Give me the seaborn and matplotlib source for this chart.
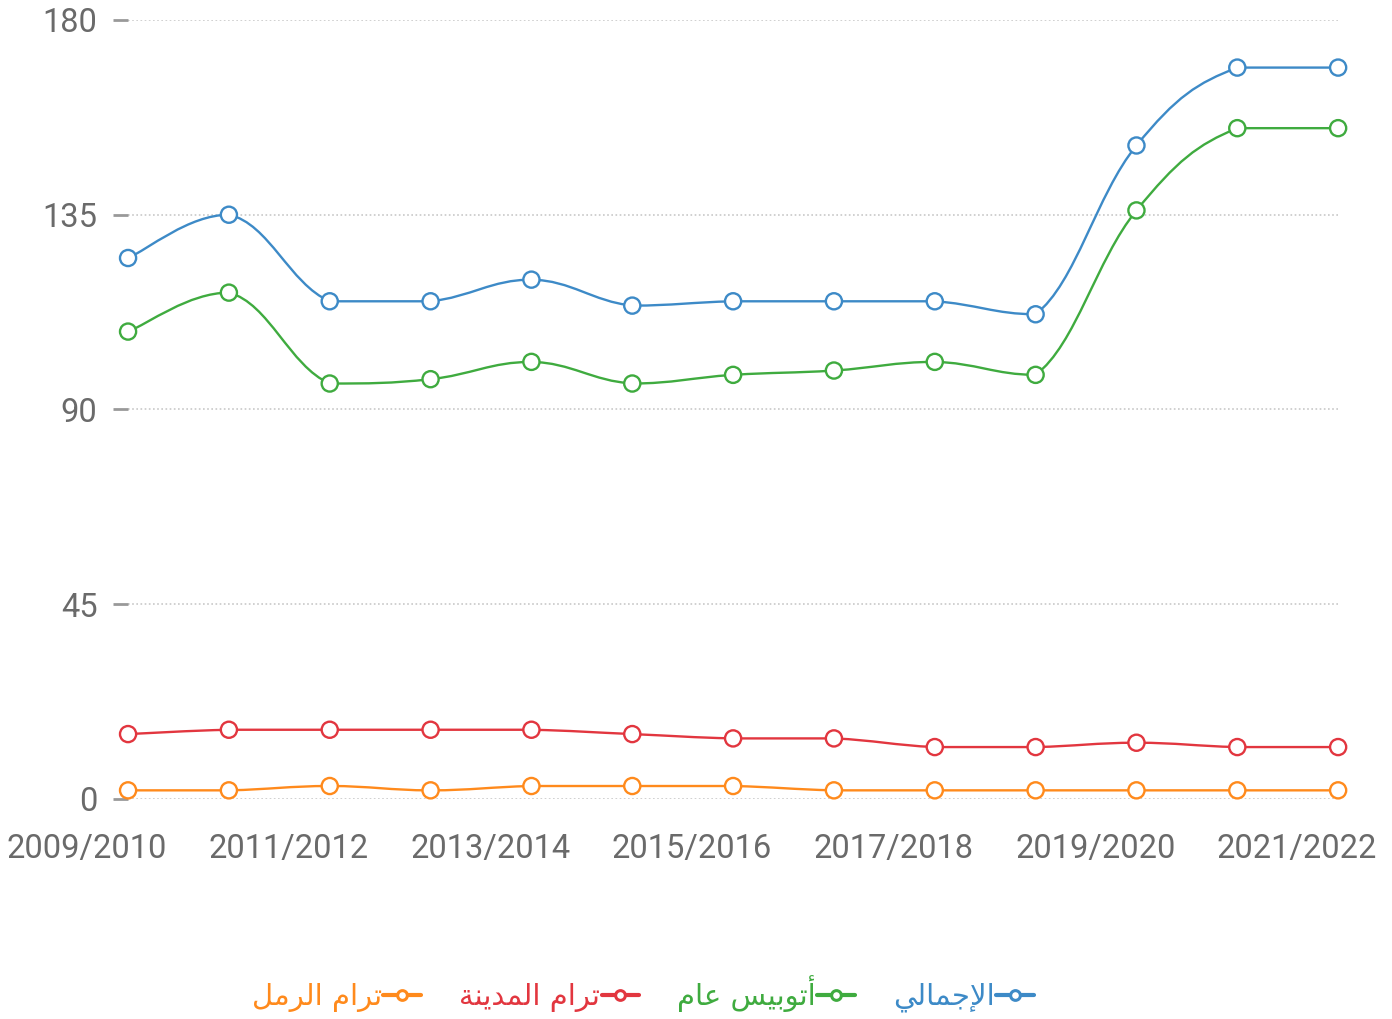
import numpy as np
import pandas as pd
import seaborn as sns
import matplotlib.pyplot as plt
from matplotlib.path import Path
from matplotlib.patches import PathPatch
from matplotlib.lines import Line2D
from matplotlib.transforms import ScaledTranslation

# Data
years = ["2009/2010", "2010/2011", "2011/2012", "2012/2013", "2013/2014", "2014/2015",
         "2015/2016", "2016/2017", "2017/2018", "2018/2019", "2019/2020", "2020/2021",
         "2021/2022"]
total = [125, 135, 115, 115, 120, 114, 115, 115, 115, 112, 151, 169, 169]
bus = [108, 117, 96, 97, 101, 96, 98, 99, 101, 98, 136, 155, 155]
city_tram = [15, 16, 16, 16, 16, 15, 14, 14, 12, 12, 13, 12, 12]
raml_tram = [2, 2, 3, 2, 3, 3, 3, 2, 2, 2, 2, 2, 2]

series_names = ["الإجمالي", "أتوبيس عام", "ترام المدينة", "ترام الرمل"]
series_values = [total, bus, city_tram, raml_tram]
colors = ["#3d8ac7", "#3fab3f", "#e2363f", "#ff8a1c"]

y_ticks = [0, 45, 90, 135, 180]

# matplotlib does no Arabic shaping, so join letters by hand (presentation forms)
FORMS = {
    "ا": ("\ufe8d", "\ufe8e", None, None),
    "أ": ("\ufe83", "\ufe84", None, None),
    "إ": ("\ufe87", "\ufe88", None, None),
    "ب": ("\ufe8f", "\ufe90", "\ufe91", "\ufe92"),
    "ة": ("\ufe93", "\ufe94", None, None),
    "ت": ("\ufe95", "\ufe96", "\ufe97", "\ufe98"),
    "ج": ("\ufe9d", "\ufe9e", "\ufe9f", "\ufea0"),
    "د": ("\ufea9", "\ufeaa", None, None),
    "ر": ("\ufead", "\ufeae", None, None),
    "س": ("\ufeb1", "\ufeb2", "\ufeb3", "\ufeb4"),
    "ع": ("\ufec9", "\ufeca", "\ufecb", "\ufecc"),
    "ل": ("\ufedd", "\ufede", "\ufedf", "\ufee0"),
    "م": ("\ufee1", "\ufee2", "\ufee3", "\ufee4"),
    "ن": ("\ufee5", "\ufee6", "\ufee7", "\ufee8"),
    "و": ("\ufeed", "\ufeee", None, None),
    "ي": ("\ufef1", "\ufef2", "\ufef3", "\ufef4"),
}
LAM_ALEF = {"ا": ("\ufefb", "\ufefc"), "أ": ("\ufef7", "\ufef8"), "إ": ("\ufef9", "\ufefa")}


def joins_left(c):
    f = FORMS.get(c)
    return f is not None and f[2] is not None


def shape_ar(text):
    out = []
    prev_joins = False
    i = 0
    while i < len(text):
        c = text[i]
        if c not in FORMS:
            out.append(c)
            prev_joins = False
            i += 1
            continue
        if c == "ل" and i + 1 < len(text) and text[i + 1] in LAM_ALEF:
            iso, fin = LAM_ALEF[text[i + 1]]
            out.append(fin if prev_joins else iso)
            prev_joins = False
            i += 2
            continue
        nxt = text[i + 1] if i + 1 < len(text) else None
        next_ok = nxt in FORMS and joins_left(c)
        iso, fin, ini, med = FORMS[c]
        if prev_joins and next_ok:
            out.append(med)
        elif prev_joins:
            out.append(fin)
        elif next_ok:
            out.append(ini)
        else:
            out.append(iso)
        prev_joins = joins_left(c)
        i += 1
    return "".join(reversed(out))


def smooth_path(xs, ys, s=0.2):
    # cubic bezier through the points, control points kept inside each segment's y range
    n = len(xs)
    verts = [(xs[0], ys[0])]
    codes = [Path.MOVETO]
    for i in range(n - 1):
        p0 = max(i - 1, 0)
        p3 = min(i + 2, n - 1)
        c1x = xs[i] + s * (xs[i + 1] - xs[p0])
        c1y = ys[i] + s * (ys[i + 1] - ys[p0])
        c2x = xs[i + 1] - s * (xs[p3] - xs[i])
        c2y = ys[i + 1] - s * (ys[p3] - ys[i])
        lo, hi = min(ys[i], ys[i + 1]), max(ys[i], ys[i + 1])
        c1y = min(max(c1y, lo), hi)
        c2y = min(max(c2y, lo), hi)
        verts += [(c1x, c1y), (c2x, c2y), (xs[i + 1], ys[i + 1])]
        codes += [Path.CURVE4] * 3
    return Path(verts, codes)


rows = []
for name, vals in zip(series_names, series_values):
    for i, v in enumerate(vals):
        rows.append({"x": i, "year": years[i], "value": v, "series": name})
df = pd.DataFrame(rows)

sns.set_style("white")
plt.rcParams["font.family"] = ["Roboto", "DejaVu Sans"]

fig = plt.figure(figsize=(13.92, 10.19), dpi=100)
ax = fig.add_axes([0.092, 0.2159, 0.8693, 0.7645])

for name, vals, col in zip(series_names, series_values, colors):
    path = smooth_path(list(range(len(vals))), vals)
    ax.add_patch(PathPatch(path, fill=False, edgecolor=col, lw=1.7, zorder=2, clip_on=False))

sns.scatterplot(data=df, x="x", y="value", hue="series", palette=dict(zip(series_names, colors)),
                ax=ax, s=135, facecolor="white", linewidth=1.7, legend=False, zorder=3, clip_on=False)
# scatterplot fills with hue colour; recolour faces white and edges with the hue
for coll in ax.collections:
    fc = coll.get_facecolors()
    coll.set_edgecolors(fc)
    coll.set_facecolors("white")

ax.set_xlim(0, len(years) - 1)
ax.set_ylim(0, 180)
ax.set_yticks(y_ticks)
ax.set_yticklabels([str(t) for t in y_ticks])
ax.set_xticks(range(0, len(years), 2))
ax.set_xticklabels(years[::2])
ax.set_xlabel("")
ax.set_ylabel("")

for sp in ax.spines.values():
    sp.set_visible(False)
ax.grid(axis="y", linestyle=(0, (1, 1.5)), color="#c8c8c8", linewidth=1.2)
ax.grid(axis="x", visible=False)
ax.tick_params(axis="y", left=True, length=11, width=2, color="#999999", pad=11,
               labelsize=23.5, labelcolor="#6a6a6a")
ax.tick_params(axis="x", bottom=False, pad=21, labelsize=23.5, labelcolor="#6a6a6a")

offset = ScaledTranslation(-0.41, 0, fig.dpi_scale_trans)
for lab in ax.get_xticklabels():
    lab.set_transform(lab.get_transform() + offset)

handles = []
for name, col in zip(series_names[::-1], colors[::-1]):
    handles.append(Line2D([], [], color=col, lw=3, marker="o", markersize=7,
                          markerfacecolor="white", markeredgewidth=2.2, label=shape_ar(name)))
leg = fig.legend(handles=handles, loc="center", bbox_to_anchor=(0.462, 0.025), ncol=4,
                 frameon=False, markerfirst=False, handlelength=1.3, handletextpad=0.05,
                 columnspacing=1.3, labelcolor="linecolor",
                 prop={"family": "DejaVu Sans", "size": 21})

fig.savefig("out.png", dpi=100)
